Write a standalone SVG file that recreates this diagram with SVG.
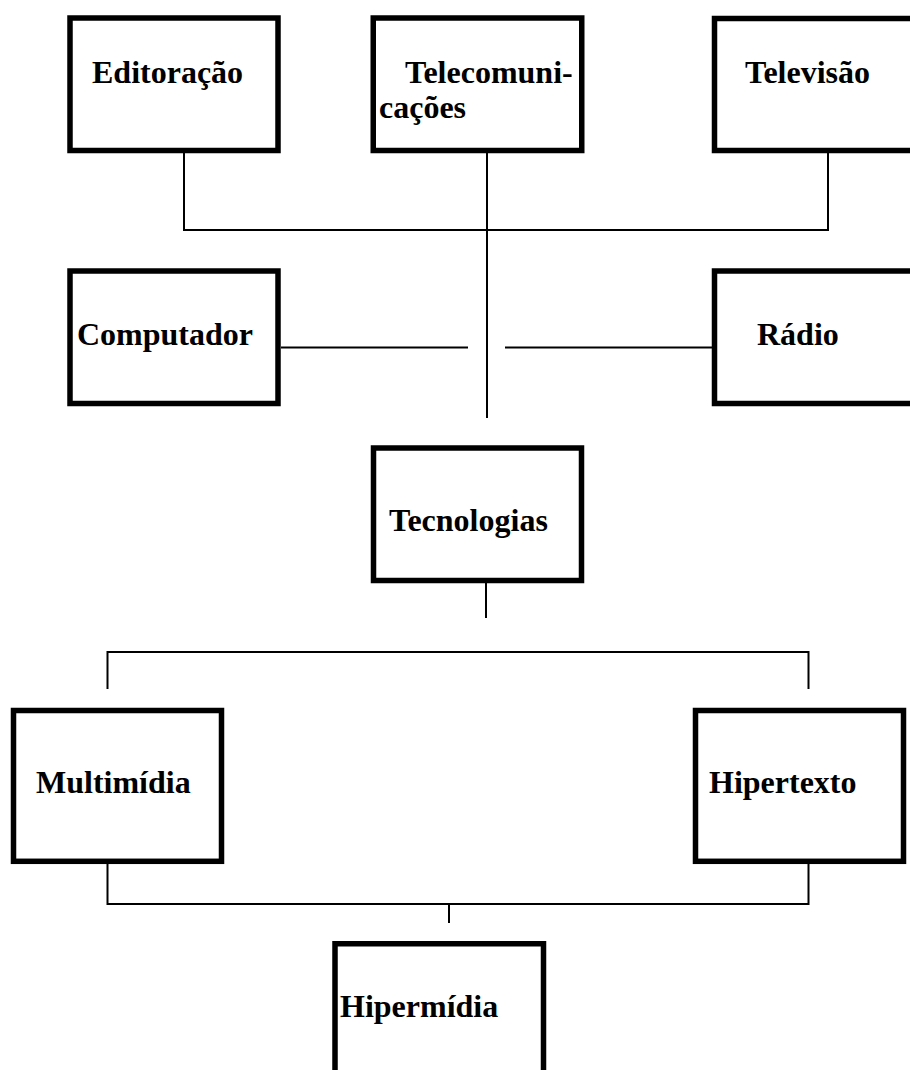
<svg xmlns="http://www.w3.org/2000/svg" width="910" height="1070" viewBox="0 0 910 1070">
<style>
.box{fill:#fff;stroke:#000;stroke-width:5.5}
.lbl{font-family:"Liberation Serif","Times New Roman",serif;font-weight:bold;font-size:32px;fill:#000}
.con{fill:none;stroke:#000;stroke-width:2}
</style>
<rect x="0" y="0" width="910" height="1070" fill="#fff"/>
<g id="connectors">
<path class="con" d="M184 153 V230 H828 V153"/>
<path class="con" d="M487 153 V418"/>
<path class="con" d="M281 347.5 H468"/>
<path class="con" d="M505 347.5 H712"/>
<path class="con" d="M486 583 V618"/>
<path class="con" d="M107.5 689 V652 H808.5 V689"/>
<path class="con" d="M107.5 864 V904 H808.5 V864"/>
<path class="con" d="M449 904 V923"/>
</g>
<g id="editoracao"><rect class="box" x="70" y="18" width="208" height="132.5"/><text class="lbl" x="92" y="83">Editoração</text></g>
<g id="telecomunicacoes"><rect class="box" x="373.25" y="18" width="208.5" height="132.5"/><text class="lbl" x="405" y="83">Telecomuni-</text><text class="lbl" x="379" y="118">cações</text></g>
<g id="televisao"><rect class="box" x="714.5" y="18.5" width="208" height="132"/><text class="lbl" x="745" y="83">Televisão</text></g>
<g id="computador"><rect class="box" x="70" y="271" width="208" height="132.5"/><text class="lbl" x="77" y="345">Computador</text></g>
<g id="radio"><rect class="box" x="714.5" y="271" width="208" height="132.5"/><text class="lbl" x="757" y="345">Rádio</text></g>
<g id="tecnologias"><rect class="box" x="373.5" y="448" width="208" height="132.5"/><text class="lbl" x="389" y="531">Tecnologias</text></g>
<g id="multimidia"><rect class="box" x="13.5" y="710.5" width="208" height="150.8"/><text class="lbl" x="36" y="793">Multimídia</text></g>
<g id="hipertexto"><rect class="box" x="695.5" y="710.5" width="208" height="150.8"/><text class="lbl" x="709" y="793">Hipertexto</text></g>
<g id="hipermidia"><rect class="box" x="335" y="943.75" width="208.5" height="150"/><text class="lbl" x="340" y="1017">Hipermídia</text></g>
</svg>
